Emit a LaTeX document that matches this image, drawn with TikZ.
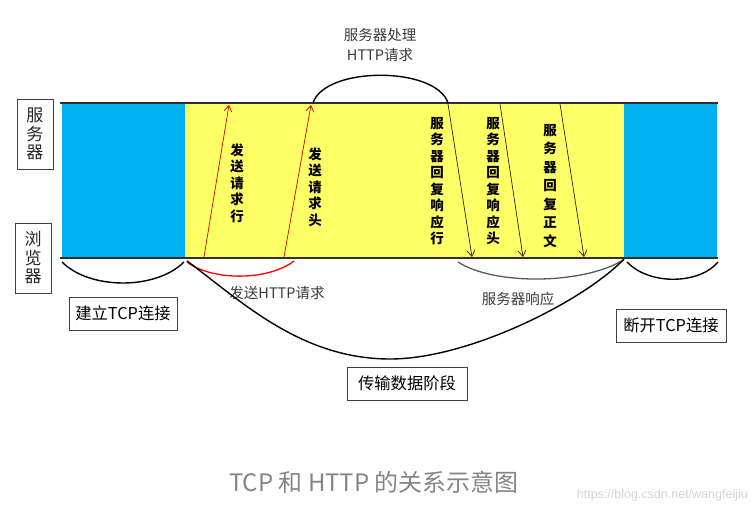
\documentclass[tikz,border=0pt]{standalone}
\usepackage{fontspec}
\setmainfont{Noto Sans CJK SC}
\newfontfamily\wmfont{Liberation Sans}
\usetikzlibrary{arrows.meta}
\definecolor{cblue}{HTML}{00B0F0}
\definecolor{cyellow}{HTML}{FFFF66}
\definecolor{ctext}{HTML}{3A3A3A}
\definecolor{ccap}{HTML}{858585}
\definecolor{cwm}{HTML}{D4D4D4}
\definecolor{cline}{HTML}{303030}
\begin{document}
\begin{tikzpicture}[x=1pt,y=-1pt,
  region/.style={draw=none, inner sep=0pt, outer sep=0pt},
  timeline/.style={draw=cline, line width=1.8pt},
  vtext/.style={font=\fontsize{13.5}{16.5}\selectfont\bfseries, align=center, inner sep=0pt, text=black},
  sidebox/.style={draw=black!75, line width=0.8pt, font=\fontsize{17}{18.5}\selectfont, align=center, inner sep=0pt, minimum width=36pt, minimum height=70pt, text=black!85},
  phasebox/.style={draw=black!75, line width=0.8pt, font=\fontsize{16.3}{18}\selectfont, inner sep=0pt, minimum height=33pt, text=black},
  note/.style={font=\fontsize{14.5}{20}\selectfont, align=center, inner sep=0pt, text=ctext},
  reqarrow/.style={draw=red!85!black, line width=0.7pt, -{Straight Barb[length=6pt,width=8pt]}},
  resarrow/.style={draw=black!85, line width=0.7pt, -{Straight Barb[length=6pt,width=8pt]}},
  brace/.style={draw=black, line width=1.4pt},
]
\useasboundingbox (0,0) rectangle (755,513);

% coloured regions
\node[region, fill=cblue, minimum width=123pt, minimum height=154pt] (blueL) at (123.5,180.5) {};
\node[region, fill=cyellow, minimum width=439pt, minimum height=154pt] (yellow) at (404.5,180.5) {};
\node[region, fill=cblue, minimum width=93pt, minimum height=154pt] (blueR) at (670.5,180.5) {};

% time lines
\coordinate (topL) at (60,103);
\coordinate (topR) at (718,103);
\coordinate (botL) at (60,258);
\coordinate (botR) at (718,258);
\draw[timeline] (topL) -- (topR);
\draw[timeline] (botL) -- (botR);

% side labels
\node[sidebox] (server) at (35,134) {服\\务\\器};
\node[sidebox] (browser) at (33,258) {浏\\览\\器};

% request arrows
\coordinate (rq1s) at (204,257);
\coordinate (rq1e) at (229,105);
\coordinate (rq2s) at (284,257);
\coordinate (rq2e) at (311,105);
\draw[reqarrow] (rq1s) -- (rq1e);
\draw[reqarrow] (rq2s) -- (rq2e);
\node[vtext] (lbl1) at (237,183) {发\\送\\请\\求\\行};
\node[vtext] (lbl2) at (315,187) {发\\送\\请\\求\\头};

% response arrows
\coordinate (rs1s) at (448,104);
\coordinate (rs1e) at (472,257);
\coordinate (rs2s) at (500,104);
\coordinate (rs2e) at (523,257);
\coordinate (rs3s) at (560,104);
\coordinate (rs3e) at (584,257);
\draw[resarrow] (rs1s) -- (rs1e);
\draw[resarrow] (rs2s) -- (rs2e);
\draw[resarrow] (rs3s) -- (rs3e);
\node[vtext] (lbl3) at (437,181) {服\\务\\器\\回\\复\\响\\应\\行};
\node[vtext] (lbl4) at (493,181) {服\\务\\器\\回\\复\\响\\应\\头};
\node[vtext, font=\fontsize{13.5}{18.5}\selectfont\bfseries] (lbl5) at (550,186) {服\\务\\器\\回\\复\\正\\文};

% server processing arc
\coordinate (procS) at (313,103);
\coordinate (procE) at (448,103);
\draw[brace] (procS) .. controls (325,66) and (436,66) .. (procE);
\node[note] (proc) at (380,45) {服务器处理\\HTTP请求};

% TCP connect arc
\coordinate (conS) at (62,262);
\coordinate (conE) at (184,262);
\draw[brace] (conS) .. controls (90,290) and (156,290) .. (conE);
\node[phasebox, minimum width=108pt] (connect) at (123,313.5) {建立TCP连接};

% send request arc
\coordinate (sendS) at (187,262);
\coordinate (sendE) at (294,261);
\draw[brace, draw=red, line width=1.3pt] (sendS) .. controls (212,281) and (268,281) .. (sendE);
\node[note] (send) at (277,293) {发送HTTP请求};

% server response arc
\coordinate (respS) at (458,262);
\coordinate (respE) at (623,260);
\draw[brace, draw=black!65, line width=1.3pt] (respS) .. controls (495,286) and (585,284) .. (respE);
\node[note] (resp) at (518,299) {服务器响应};

% data transfer arc
\coordinate (dataS) at (187,261);
\coordinate (dataM) at (390,359);
\coordinate (dataE) at (624,259);
\draw[brace] (dataS) .. controls (240,300) and (300,359) .. (dataM) .. controls (470,359) and (585,300) .. (dataE);
\node[phasebox, minimum width=120pt] (transfer) at (407,383.5) {传输数据阶段};

% disconnect arc
\coordinate (disS) at (627,262);
\coordinate (disE) at (718,262);
\draw[brace] (disS) .. controls (650,286) and (700,284) .. (disE);
\node[phasebox, minimum width=110pt] (disconnect) at (671,325.5) {断开TCP连接};

% caption and watermark
\node[font=\fontsize{24}{27}\selectfont, text=ccap, inner sep=0pt] (caption) at (374,482) {TCP 和 HTTP 的关系示意图};
\node[font=\wmfont\fontsize{12.5}{14}\selectfont, text=cwm, inner sep=0pt, anchor=east] (wm) at (748,495) {https://blog.csdn.net/wangfeijiu};
\end{tikzpicture}
\end{document}
